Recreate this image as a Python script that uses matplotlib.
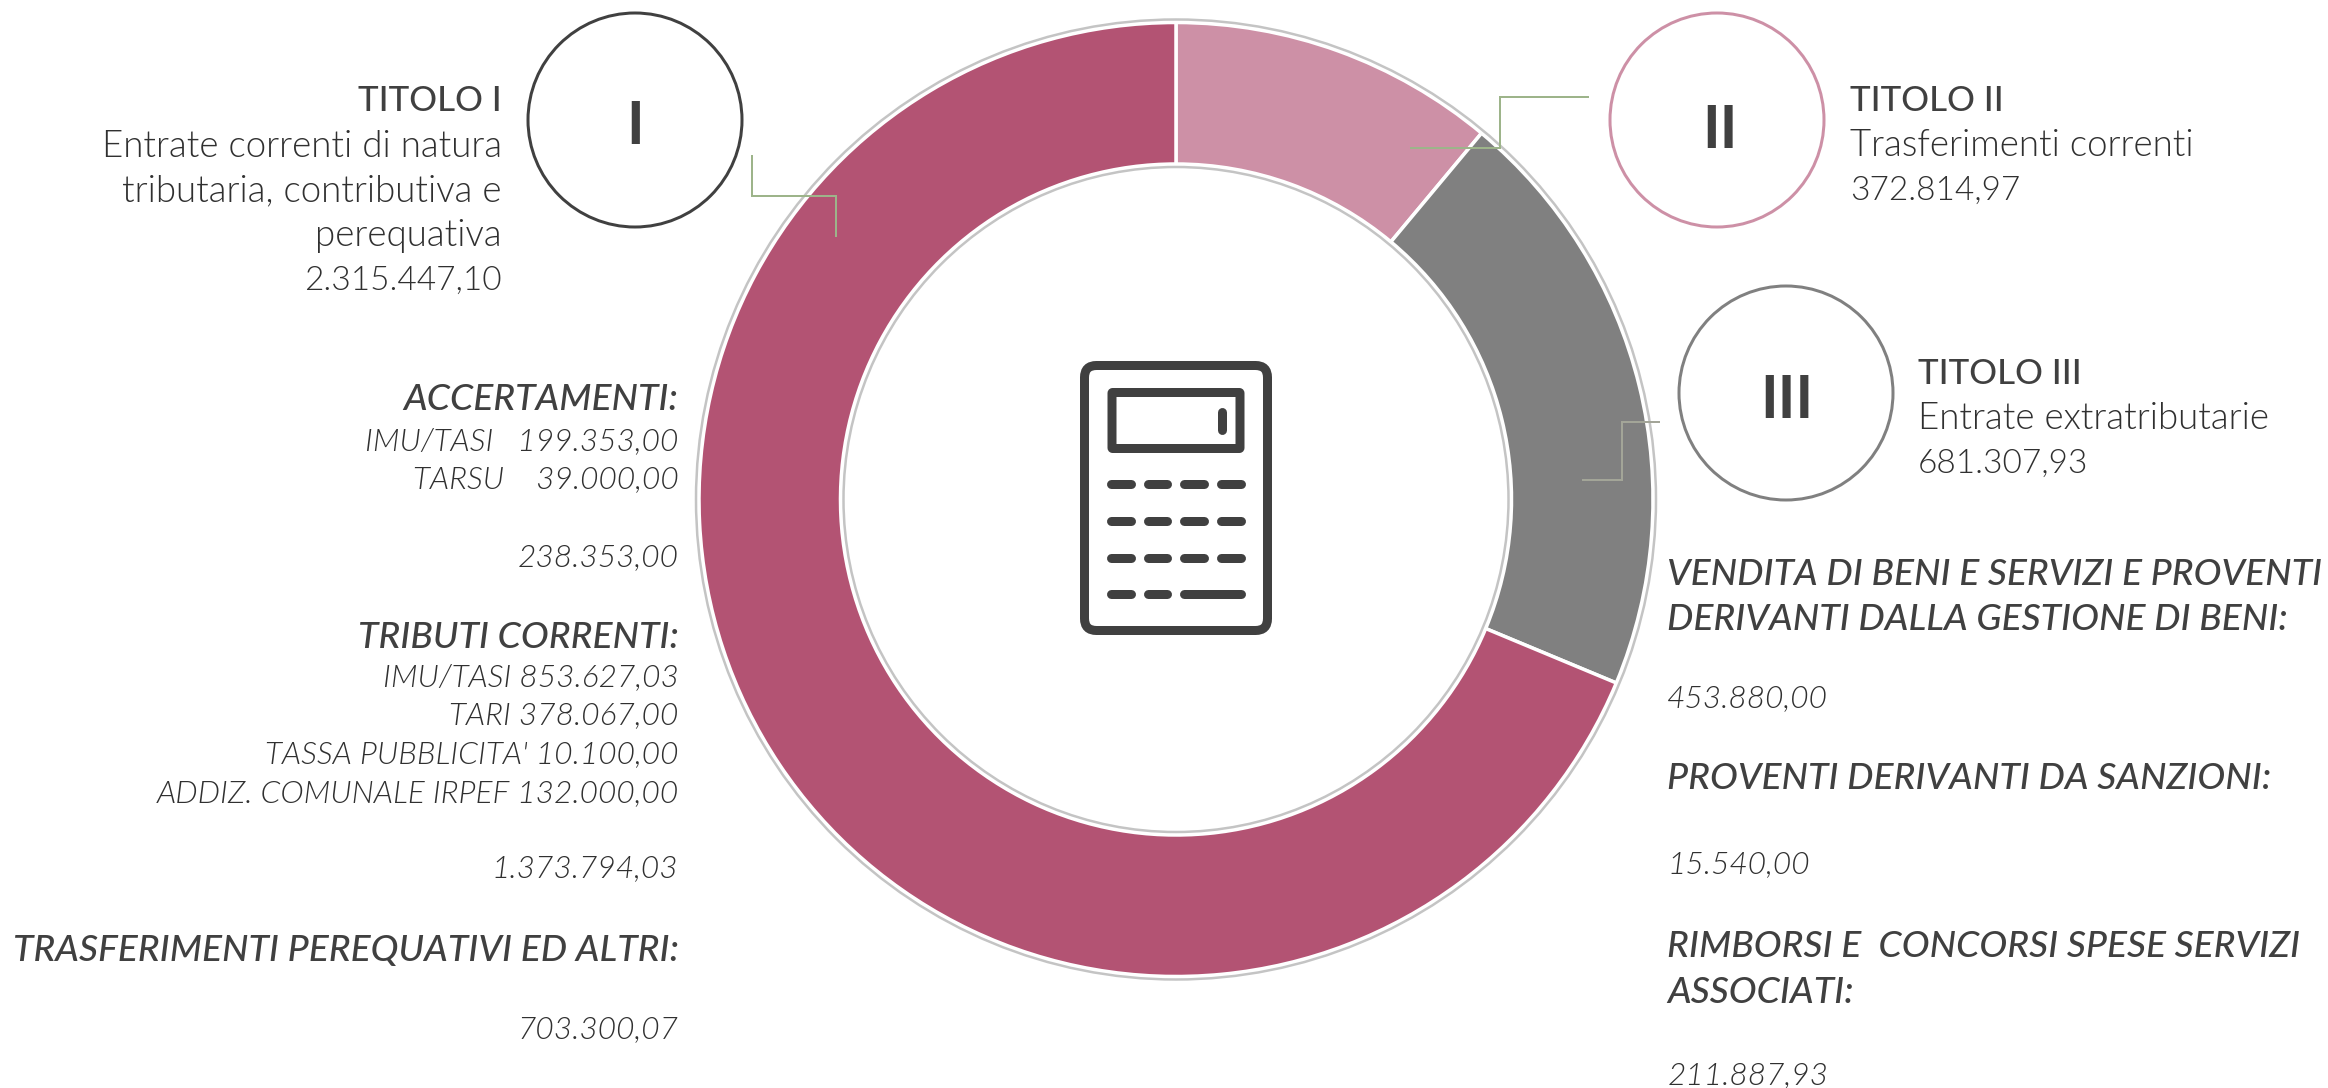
import matplotlib
matplotlib.use("Agg")
import matplotlib.pyplot as plt
from matplotlib.patches import Circle, FancyBboxPatch

# data
slice_names = ["TITOLO II", "TITOLO III", "TITOLO I"]
slice_values = [372814.97, 681307.93, 2315447.10]

left_heading = ["TITOLO I", "Entrate correnti di natura", "tributaria, contributiva e",
                "perequativa", "2.315.447,10"]
title2_lines = ["TITOLO II", "Trasferimenti correnti", "372.814,97"]
title3_lines = ["TITOLO III", "Entrate extratributarie", "681.307,93"]
left_detail = ["ACCERTAMENTI:", "IMU/TASI   199.353,00", "TARSU    39.000,00", "238.353,00",
               "TRIBUTI CORRENTI:", "IMU/TASI 853.627,03", "TARI 378.067,00",
               "TASSA PUBBLICITA' 10.100,00", "ADDIZ. COMUNALE IRPEF 132.000,00", "1.373.794,03",
               "TRASFERIMENTI PEREQUATIVI ED ALTRI:", "703.300,07"]
right_detail = ["VENDITA DI BENI E SERVIZI E PROVENTI", "DERIVANTI DALLA GESTIONE DI BENI:",
                "453.880,00", "PROVENTI DERIVANTI DA SANZIONI:", "15.540,00",
                "RIMBORSI E  CONCORSI SPESE SERVIZI", "ASSOCIATI:", "211.887,93"]

# style / layout
W, H = 2328, 1088
FONT = "Lato"
INK = "#404040"
INK_LIGHT = "#303030"
COL_I, COL_II, COL_III = "#B35373", "#CD90A6", "#808080"
GREEN = "#9DB48A"
S = 2328 / 1568
PX = 72 / 100
LIGHT, MED = 300, 500

fig = plt.figure(figsize=(W / 100, H / 100), dpi=100, facecolor="white")
ax = fig.add_axes([0, 0, 1, 1])

def Y(py):
    return H - py

cx, cy, R_out, R_in = 1176, Y(499.5), 477, 335.5
ax.pie(slice_values, colors=[COL_II, COL_III, COL_I], startangle=90, counterclock=False,
       center=(cx, cy), radius=R_out, frame=True,
       wedgeprops=dict(width=R_out - R_in, edgecolor="white", linewidth=3.5 * PX))
for r in (480, 332.5):
    ax.add_patch(Circle((cx, cy), r, fill=False, ec="#C4C4C4", lw=2.5 * PX))
ax.set_xlim(0, W)
ax.set_ylim(0, H)
ax.set_aspect("equal")
ax.axis("off")

def txt(x, y, s, size, ha="left", weight=LIGHT, style="normal"):
    ax.text(x, Y((y + 1.2) * S), s, fontsize=size, ha=ha, va="center",
            color=INK_LIGHT if weight == LIGHT else INK,
            family=FONT, weight=weight, style=style)

# headings
HEAD, HEADB, HEADNUM = 26.4, 25.0, 24.0
def head_block(lines, x, ys, ha):
    last = len(lines) - 1
    for i, (s_, y) in enumerate(zip(lines, ys)):
        size = HEADB if i == 0 else HEADNUM if i == last else HEAD
        txt(x, y, s_, size, ha=ha, weight=MED if i == 0 else LIGHT)
head_block(left_heading, 338 * S, [67, 98, 128, 158, 188], "right")
head_block(title2_lines, 1246 * S, [67, 97, 127], "left")
head_block(title3_lines, 1292 * S, [251, 281, 311], "left")

# detail blocks
SUB, SMALL = 26.8, 22.8
ly = [268, 296, 322, 374, 428, 455, 481, 507, 533, 584, 639, 692]
lbold = {0, 4, 10}
for i, (s_, y) in enumerate(zip(left_detail, ly)):
    txt(457 * S, y, s_, SUB if i in lbold else SMALL, ha="right",
        weight=MED if i in lbold else LIGHT, style="italic")
ry = [386, 416, 469, 523, 581, 636, 667, 723]
rbold = {0, 1, 3, 5, 6}
for i, (s_, y) in enumerate(zip(right_detail, ry)):
    txt(1123 * S, y, s_, SUB if i in rbold else SMALL,
        weight=MED if i in rbold else LIGHT, style="italic")

# numeral circles
for (x, y, r, col, n, ny) in [(635, 120, 107, INK, "I", 121.5), (1717, 120, 107, COL_II, "II", 125.5),
                              (1786, 393, 107, COL_III, "III", 396.5)]:
    ax.add_patch(Circle((x, Y(y)), r, fc="white", ec=col, lw=3 * PX, zorder=3))
    ax.text(x + (3 if n == "II" else 1 if n == "III" else 0), Y(ny), n, fontsize=43, ha="center",
            va="center_baseline", color=INK, family=FONT, weight=700, zorder=4)

# leader lines
def poly(xs, ys, col):
    ax.plot(xs, [Y(v) for v in ys], color=col, lw=2 * PX, zorder=2.5,
            solid_joinstyle="miter", solid_capstyle="butt")
poly([752, 752, 836, 836], [155, 196, 196, 237], GREEN)
poly([1410, 1500, 1500, 1589], [148, 148, 97, 97], GREEN)
poly([1582, 1622, 1622, 1660], [480, 480, 422, 422], "#A3A598")

# calculator icon
ax.add_patch(FancyBboxPatch((1084.5, Y(630.5)), 183, 265, boxstyle="round,pad=0,rounding_size=12",
                            fc="none", ec=INK, lw=9 * PX))
ax.add_patch(FancyBboxPatch((1112, Y(448.5)), 128, 56, boxstyle="round,pad=0,rounding_size=0.5",
                            fc="none", ec=INK, lw=9 * PX, joinstyle="round"))
def key(x0, x1, y0, y1):
    ax.plot([x0, x1], [Y(y0), Y(y1)], color=INK, lw=9 * PX, solid_capstyle="round")
key(1221.7, 1221.7, 411.5, 429.5)
for row in (484, 521, 558):
    for a, b in [(1111, 1131), (1148, 1167), (1184, 1204), (1221, 1241)]:
        key(a, b, row, row)
for a, b in [(1111, 1131), (1148, 1167), (1184, 1241)]:
    key(a, b, 594, 594)

fig.savefig("out.png", dpi=100, facecolor="white")
